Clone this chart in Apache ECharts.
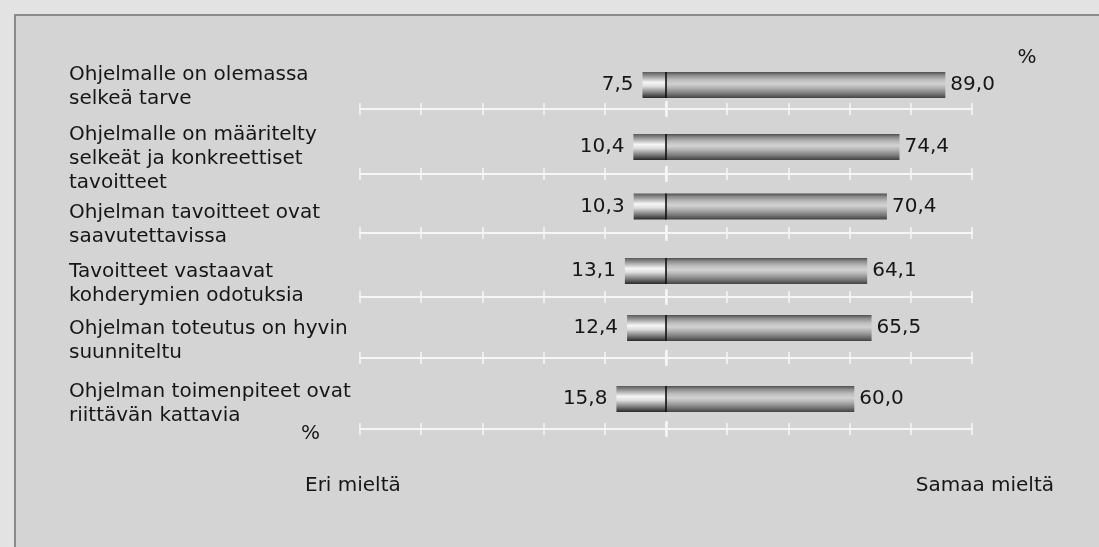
<!DOCTYPE html>
<html>
<head>
<meta charset="utf-8">
<script src="https://cdn.jsdelivr.net/npm/echarts@6/dist/echarts.min.js"></script>
<style>
html,body{margin:0;padding:0;background:#e3e3e3;}
#c{width:1099px;height:547px;}
</style>
</head>
<body>
<div id="c"></div>
<script>
// ---- data ----
const categories = [
  'Ohjelmalle on olemassa\nselkeä tarve',
  'Ohjelmalle on määritelty\nselkeät ja konkreettiset\ntavoitteet',
  'Ohjelman tavoitteet ovat\nsaavutettavissa',
  'Tavoitteet vastaavat\nkohderymien odotuksia',
  'Ohjelman toteutus on hyvin\nsuunniteltu',
  'Ohjelman toimenpiteet ovat\nriittävän kattavia'
];
const disagree = [7.5, 10.4, 10.3, 13.1, 12.4, 15.8];   // Eri mieltä (%)
const agree = [89.0, 74.4, 70.4, 64.1, 65.5, 60.0];     // Samaa mieltä (%)
const axisMin = -100;
const axisMax = 100;
const axisStep = 20;
const unitText = '%';
const leftTitle = 'Eri mieltä';
const rightTitle = 'Samaa mieltä';

// ---- layout (pixels) ----
const ROW_BAR_Y = [85, 147, 206.5, 271, 328, 399];
const ROW_AXIS_Y = [109, 174, 233, 297, 358, 429];
const ROW_LABEL_Y = [75, 135, 213, 272, 329, 392];
const GRID_LEFT = 360, GRID_WIDTH = 612;
const BAR_W = 26;
const BAR_SCALE = 97.5;
const FONT = '"DejaVu Sans", sans-serif';
const TEXT_COLOR = '#161616';
const AXIS_COLOR = '#f6f6f6';

const fmt = v => Math.abs(v).toFixed(1).replace('.', ',');

const negGrad = () => new echarts.graphic.LinearGradient(0, 0, 0, 1, [
  {offset: 0, color: '#5a5a5a'},
  {offset: 0.15, color: '#939393'},
  {offset: 0.4, color: '#f6f6f6'},
  {offset: 0.55, color: '#dedede'},
  {offset: 0.8, color: '#7c7c7c'},
  {offset: 1, color: '#282828'}
]);
const posGrad = () => new echarts.graphic.LinearGradient(0, 0, 0, 1, [
  {offset: 0, color: '#4e4e4e'},
  {offset: 0.12, color: '#8a8a8a'},
  {offset: 0.3, color: '#bcbcbc'},
  {offset: 0.46, color: '#d2d2d2'},
  {offset: 0.62, color: '#b0b0b0'},
  {offset: 0.84, color: '#767676'},
  {offset: 1, color: '#424242'}
]);

const grids = [], xAxes = [], yAxes = [], series = [];

categories.forEach((cat, i) => {
  const d = ROW_AXIS_Y[i] - ROW_BAR_Y[i];
  grids.push({left: GRID_LEFT, width: GRID_WIDTH, top: ROW_BAR_Y[i] - d, height: 2 * d});
  const base = {
    type: 'value', gridIndex: i, position: 'bottom',
    min: axisMin, max: axisMax, interval: axisStep,
    axisLabel: {show: false}, splitLine: {show: false}
  };
  xAxes.push(Object.assign({}, base, {
    axisLine: {show: true, lineStyle: {color: AXIS_COLOR, width: 2}},
    axisTick: {show: true, inside: false, length: 6, lineStyle: {color: AXIS_COLOR, width: 1.5}}
  }));
  xAxes.push(Object.assign({}, base, {
    axisLine: {show: false},
    axisTick: {show: true, inside: true, length: 6, lineStyle: {color: AXIS_COLOR, width: 1.5}}
  }));
  xAxes.push(Object.assign({}, base, {
    axisLine: {show: false},
    axisTick: {show: true, inside: false, length: 8, customValues: [0], lineStyle: {color: AXIS_COLOR, width: 2.5}}
  }));
  xAxes.push(Object.assign({}, base, {
    axisLine: {show: false},
    axisTick: {show: true, inside: true, length: 8, customValues: [0], lineStyle: {color: AXIS_COLOR, width: 2.5}}
  }));
  xAxes.push({type: 'value', gridIndex: i, position: 'bottom', min: -BAR_SCALE, max: BAR_SCALE, show: false});
  const barAxis = 5 * i + 4;

  yAxes.push({type: 'category', gridIndex: i, data: [cat], show: false});

  series.push({
    type: 'bar', name: leftTitle, xAxisIndex: barAxis, yAxisIndex: i,
    stack: 'row' + i, barWidth: BAR_W, data: [-disagree[i]],
    itemStyle: {color: negGrad()},
    label: {show: true, position: 'left', distance: 9, formatter: p => fmt(p.value),
      fontFamily: FONT, fontSize: 20, color: TEXT_COLOR},
    silent: true, animation: false
  });
  series.push({
    type: 'bar', name: rightTitle, xAxisIndex: barAxis, yAxisIndex: i,
    stack: 'row' + i, barWidth: BAR_W, data: [agree[i]],
    itemStyle: {color: posGrad()},
    label: {show: true, position: 'right', distance: 5, formatter: p => fmt(p.value),
      fontFamily: FONT, fontSize: 20, color: TEXT_COLOR},
    silent: true, animation: false
  });
  series.push({
    type: 'custom', xAxisIndex: barAxis, yAxisIndex: i, z: 5,
    data: [[0, 0]], encode: {x: 0, y: 1}, silent: true, animation: false,
    renderItem: (params, api) => {
      const p = api.coord([api.value(0), api.value(1)]);
      return {type: 'rect', shape: {x: p[0] - 0.8, y: p[1] - BAR_W / 2, width: 1.6, height: BAR_W},
        style: {fill: '#111111'}};
    }
  });
});

const graphics = [
  {type: 'rect', z: -10, silent: true, shape: {x: 15, y: 15, width: 1100, height: 540},
   style: {fill: '#d4d4d4', stroke: '#8a8a8a', lineWidth: 2}}
];
categories.forEach((cat, i) => {
  graphics.push({type: 'text', x: 69, y: ROW_LABEL_Y[i] - 12, silent: true,
    style: {text: cat, font: '20px ' + FONT, fill: TEXT_COLOR, lineHeight: 24,
      align: 'left', verticalAlign: 'top'}});
});
graphics.push({type: 'text', x: 1027, y: 58, silent: true,
  style: {text: unitText, font: '20px ' + FONT, fill: TEXT_COLOR, align: 'center', verticalAlign: 'middle'}});
graphics.push({type: 'text', x: 301, y: 434, silent: true,
  style: {text: unitText, font: '20px ' + FONT, fill: TEXT_COLOR, align: 'left', verticalAlign: 'middle'}});
graphics.push({type: 'text', x: 305, y: 486, silent: true,
  style: {text: leftTitle, font: '20px ' + FONT, fill: TEXT_COLOR, align: 'left', verticalAlign: 'middle'}});
graphics.push({type: 'text', x: 1054, y: 486, silent: true,
  style: {text: rightTitle, font: '20px ' + FONT, fill: TEXT_COLOR, align: 'right', verticalAlign: 'middle'}});

const chart = echarts.init(document.getElementById('c'));
chart.setOption({
  backgroundColor: '#e3e3e3',
  animation: false,
  grid: grids,
  xAxis: xAxes,
  yAxis: yAxes,
  series: series,
  graphic: {elements: graphics}
});
</script>
</body>
</html>
